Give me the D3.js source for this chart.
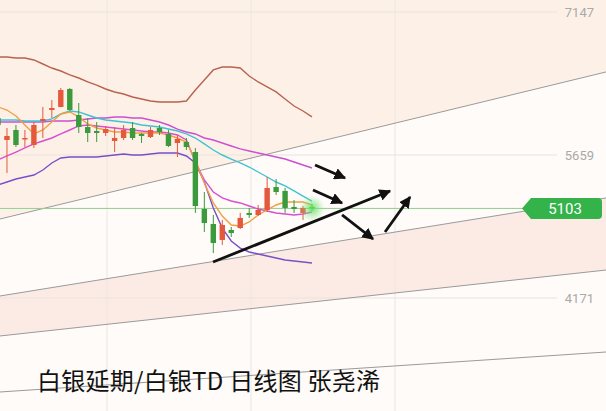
<!DOCTYPE html>
<html><head><meta charset="utf-8">
<script src="https://cdn.jsdelivr.net/npm/d3@7/dist/d3.min.js"></script>
<style>html,body{margin:0;padding:0;background:#fdf8f3;overflow:hidden}</style>
</head><body><svg id="c" width="606" height="411"></svg>
<script>
// ---- data (price units) ----
const tickValues = [7147, 5659, 4171];
const lastPrice = 5103;
const opens  = [6044,5815,5919,5826,5763,6013,6127,6159,6346,6075,5950,5909,5888,5805,5836,5940,5878,5846,5940,5878,5784,5794,5690,5097,4941,4775,4879,4899,5056,5035,5087,5326,5285,5118,5056,5118];
const highs  = [6075,5940,5971,5919,6002,6159,6231,6356,6356,6200,6044,6002,5961,5950,5971,6002,5888,5950,5971,5919,5867,5836,5732,5274,5035,4983,4910,5056,5108,5139,5430,5409,5316,5191,5128,5149];
const lows   = [5940,5472,5742,5742,5732,5836,6044,6155,6117,5888,5794,5794,5857,5690,5815,5815,5784,5836,5867,5742,5638,5711,5056,4858,4639,4723,4806,4889,5004,5024,5066,5243,5056,5056,4983,5076];
const closes = [5971,5857,5763,5836,5971,6034,6148,6335,6127,5950,5888,5888,5929,5836,5919,5836,5857,5919,5898,5753,5826,5742,5128,4951,4743,4931,4847,5004,5035,5087,5316,5274,5108,5097,5108,5103];
const ma5    = [6159,6127,6065,5971,5878,5919,6002,6086,6107,6055,5982,5940,5919,5898,5898,5888,5888,5888,5888,5867,5836,5794,5607,5368,5160,5024,4931,4920,4962,5035,5087,5139,5170,5170,5170,5139];
const ma10   = [6023,6023,6023,6013,6013,6013,6034,6086,6117,6107,6075,6044,6023,6013,6002,5992,5971,5961,5950,5929,5909,5878,5836,5774,5711,5659,5617,5576,5534,5482,5430,5378,5337,5285,5232,5180];
const maMid  = [6002,6002,6002,6002,6002,6002,6013,6013,6013,6023,6034,6044,6044,6055,6055,6044,6044,6023,6002,5971,5929,5898,5878,5836,5815,5784,5753,5722,5701,5680,5659,5638,5617,5586,5555,5524];
const maFast = [5607,5649,5690,5732,5774,5805,5836,5878,5919,5961,5971,5961,5950,5940,5929,5919,5909,5898,5898,5888,5867,5815,5586,5399,5274,5212,5180,5160,5128,5097,5076,5056,5045,5035,5045,5066];
const bollLow= [5347,5378,5409,5430,5451,5503,5576,5628,5638,5638,5638,5638,5649,5659,5669,5659,5659,5669,5680,5680,5680,5649,5576,5378,5108,4899,4764,4691,4650,4629,4608,4587,4566,4556,4545,4535];
const bollUp = [6679,6679,6668,6668,6648,6606,6564,6533,6492,6460,6419,6387,6346,6315,6294,6263,6242,6221,6211,6211,6211,6221,6335,6440,6544,6575,6575,6564,6481,6419,6367,6315,6242,6169,6117,6055];
// trend lines: [index0, price0, index1, price1]
const trendLines = [[0.22,4993,67.77,6523],[0.22,4192,67.77,5212],[0.22,3776,67.77,4462],[0.22,3193,67.77,3609]];
const arrows = [[35.34,5555,38.68,5420],[35.11,5295,38.35,5160],[23.97,4545,43.70,5284],[38.35,5035,41.80,4785],[43.14,4858,45.93,5222]];
const title = "白银延期/白银TD 日线图 张尧浠";

const svg = d3.select("#c");
const W = 606, H = 411;
const x = d3.scaleLinear().domain([0,35]).range([-2,312]);
const y = d3.scaleLinear().domain([4171,7147]).range([298,12]);

const defs = svg.append("defs");
const rg = defs.append("radialGradient").attr("id","glow");
rg.append("stop").attr("offset","0%").attr("stop-color","#5fe05f").attr("stop-opacity",0.9);
rg.append("stop").attr("offset","100%").attr("stop-color","#8ee88e").attr("stop-opacity",0);
defs.append("marker").attr("id","ah").attr("viewBox","0 0 10 10").attr("refX",9).attr("refY",5)
  .attr("markerWidth",4.2).attr("markerHeight",4.2).attr("orient","auto")
  .append("path").attr("d","M0,0 L10,5 L0,10 Z").attr("fill","#111");

function ty(t, px){ const x0=x(t[0]),y0=y(t[1]),x1=x(t[2]),y1=y(t[3]); return y0+(y1-y0)*(px-x0)/(x1-x0); }
const T = trendLines;
svg.append("rect").attr("width",W).attr("height",H).attr("fill","#fefbf8");
function band(ta, tb, col){
  const pts = ta ? [[0,ty(ta,0)],[W,ty(ta,W)]] : [[0,0],[W,0]];
  const pts2 = tb ? [[W,ty(tb,W)],[0,ty(tb,0)]] : [[W,H],[0,H]];
  svg.append("path").attr("d","M"+pts.concat(pts2).map(p=>p.join(",")).join("L")+"Z").attr("fill",col);
}
band(null, T[0], "#fdf1e7");
band(T[1], T[2], "#fcebe5");

// grid
svg.append("g").selectAll("line").data(tickValues).join("line")
  .attr("x1",0).attr("x2",557).attr("y1",d=>y(d)).attr("y2",d=>y(d))
  .attr("stroke","#e9e3dd").attr("stroke-width",1);
svg.append("g").selectAll("line").data([107,251,395]).join("line")
  .attr("x1",d=>d).attr("x2",d=>d).attr("y1",0).attr("y2",H)
  .attr("stroke","#ece6e0").attr("stroke-width",1);

// trend lines
svg.append("g").selectAll("line").data(trendLines).join("line")
  .attr("x1",0).attr("x2",W).attr("y1",d=>ty(d,0)).attr("y2",d=>ty(d,W))
  .attr("stroke","#9a9a9a").attr("stroke-width",1);

// last price line
svg.append("line").attr("x1",0).attr("x2",527).attr("y1",y(lastPrice)).attr("y2",y(lastPrice))
  .attr("stroke","#8fd08f").attr("stroke-width",1);

// indicator lines
const idx = d3.range(opens.length);
const lineGen = arr => d3.line().x(i=>x(i)).y(i=>y(arr[i]))(idx);
[[bollUp,"#b8624f"],[bollLow,"#7a4fc8"],[maMid,"#cc4fd0"],[ma10,"#3ec3d3"],[maFast,"#d84fd0"],[ma5,"#f0a040"]].forEach(([a,c])=>{
  svg.append("path").attr("d",lineGen(a)).attr("fill","none").attr("stroke",c).attr("stroke-width",1.4);
});

// candles
const up = "#e4583c", dn = "#3a9a3c";
const cg = svg.append("g");
idx.forEach(i=>{
  const col = closes[i] >= opens[i] ? up : dn;
  cg.append("line").attr("x1",x(i)).attr("x2",x(i)).attr("y1",y(highs[i])).attr("y2",y(lows[i]))
    .attr("stroke",col).attr("stroke-width",1);
  const t = y(Math.max(opens[i],closes[i])), b = y(Math.min(opens[i],closes[i]));
  cg.append("rect").attr("x",x(i)-2.7).attr("width",5.4).attr("y",t).attr("height",Math.max(1.5,b-t)).attr("fill",col);
});

svg.append("circle").attr("cx",x(35)).attr("cy",y(lastPrice)).attr("r",13).attr("fill","url(#glow)");

// arrows
svg.append("g").selectAll("line").data(arrows).join("line")
  .attr("x1",d=>x(d[0])).attr("y1",d=>y(d[1])).attr("x2",d=>x(d[2])).attr("y2",d=>y(d[3]))
  .attr("stroke","#111").attr("stroke-width",2.8).attr("marker-end","url(#ah)");

// right axis
const ax = svg.append("g").attr("transform","translate(594,0)")
  .call(d3.axisLeft(y).tickValues(tickValues).tickSize(0).tickPadding(0).tickFormat(d3.format("d")));
ax.select(".domain").remove();
ax.selectAll("text").attr("fill","#a9a9a9").attr("font-size",13).attr("font-family","Roboto, 'Noto Sans', sans-serif");

// last price tag
const ly = y(lastPrice);
svg.append("path").attr("d",`M522,${ly} L531,${ly-10.5} L598,${ly-10.5} Q602,${ly-10.5} 602,${ly-6.5} L602,${ly+6.5} Q602,${ly+10.5} 598,${ly+10.5} L531,${ly+10.5} Z`)
  .attr("fill","#33b349");
svg.append("text").attr("x",565).attr("y",ly+5.5).attr("text-anchor","middle").attr("fill","#fff")
  .attr("font-size",15).attr("font-family","Roboto, 'Noto Sans', sans-serif").text(lastPrice);

// title
svg.append("text").attr("x",37).attr("y",390).attr("font-size",24).attr("fill","#111")
  .attr("font-family","'Noto Sans CJK SC', sans-serif").attr("textLength",343).text(title);
</script></body></html>
